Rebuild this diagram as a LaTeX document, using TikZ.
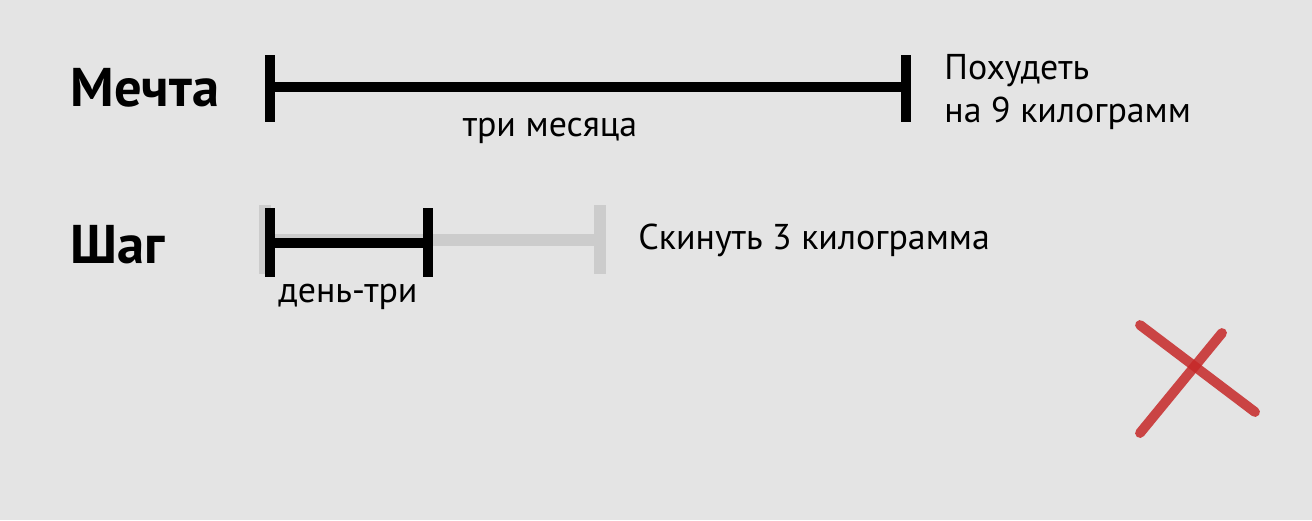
\documentclass[tikz,border=0pt]{standalone}
\usepackage{fontspec}
\setmainfont{PT Sans}
\definecolor{bg}{HTML}{E4E4E4}
\definecolor{faint}{HTML}{CCCCCC}
\definecolor{cross}{HTML}{C62828}
\begin{document}
\begin{tikzpicture}[x=0.01cm,y=-0.01cm,
  title/.style={anchor=west, font=\fontsize{15.5}{18}\selectfont\bfseries},
  label/.style={font=\fontsize{10.2}{12.5}\selectfont},
  bar/.style={line width=3pt},
  ghost/.style={line width=3.4pt, faint}]
\fill [bg] (0,0) rectangle (1312,520);
\useasboundingbox (0,0) rectangle (1312,520);
% Мечта
\node [title] (dream) at (58,88) {Мечта};
\coordinate (d1) at (270,87);
\coordinate (d2) at (906,87);
\draw [bar] (d1) -- (d2);
\draw [bar] (270,55) -- (270,122);
\draw [bar] (906,55) -- (906,122);
\node [label] (dlen) at (550,131) {три месяца};
\node [label, anchor=west, align=left] (dgoal) at (932,92) {Похудеть\\на 9 килограмм};
% Шаг
\node [title] (step1) at (58,245) {Шаг};
\coordinate (g1) at (265,240);
\coordinate (g2) at (600,240);
\draw [ghost] (g1) -- (g2);
\draw [ghost] (265,205) -- (265,274);
\draw [ghost] (600,205) -- (600,274);
\coordinate (s1) at (270,243);
\coordinate (s2) at (428,243);
\draw [bar] (s1) -- (s2);
\draw [bar] (270,208) -- (270,277);
\draw [bar] (428,208) -- (428,277);
\node [label] (slen) at (348,297) {день-три};
\node [label, anchor=west] (sgoal) at (626,240) {Скинуть 3 килограмма};
% крест
\draw [cross, opacity=0.85, line width=2.8pt, line cap=round] (1140,433) -- (1222,333);
\draw [cross, opacity=0.85, line width=2.8pt, line cap=round] (1140,325) -- (1255,412);
\end{tikzpicture}
\end{document}
